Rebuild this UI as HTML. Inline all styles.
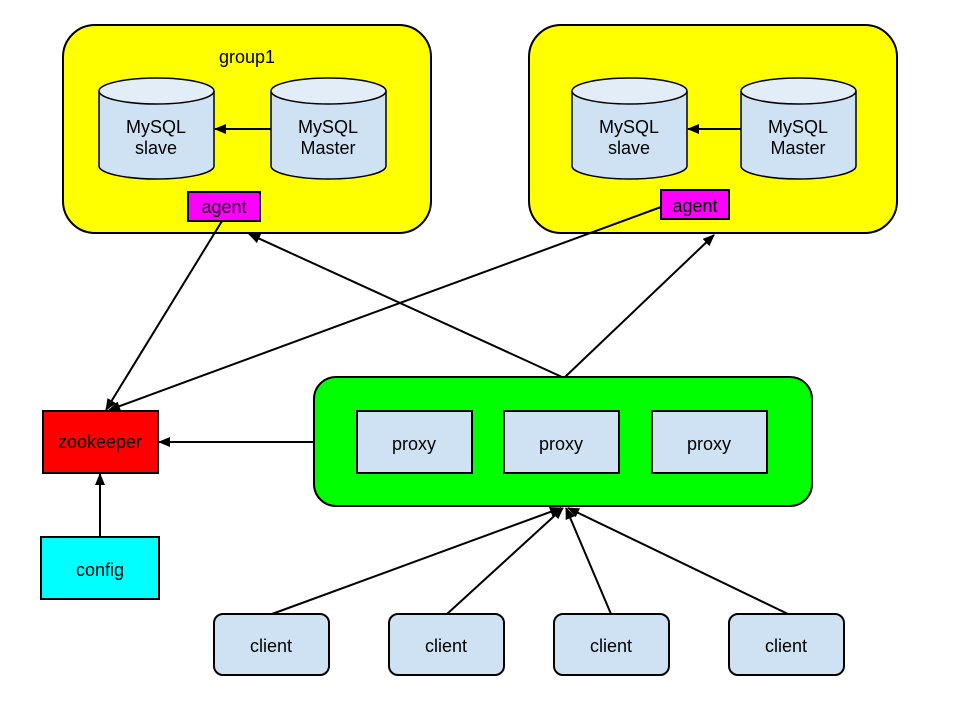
<!DOCTYPE html>
<html><head><meta charset="utf-8"><style>
html,body{margin:0;padding:0;background:#fff;}
text{font-family:"Liberation Sans",Arial,sans-serif;font-size:18px;fill:#000;}
</style></head><body>
<svg width="960" height="720" viewBox="0 0 960 720" xmlns="http://www.w3.org/2000/svg">
<defs>
<marker id="a" markerWidth="12" markerHeight="10" refX="11" refY="5" orient="auto" markerUnits="userSpaceOnUse">
<path d="M0,0 L12,5 L0,10 z" fill="#000"/></marker>
</defs>
<g stroke="#000" stroke-width="2">
<rect x="63" y="25" width="368" height="208" rx="32" fill="#ffff00"/>
<rect x="529" y="25" width="368" height="208" rx="32" fill="#ffff00"/>
<rect x="314" y="377" width="498" height="129" rx="22" fill="#00ff00"/>
<rect x="43" y="411" width="115" height="62" fill="#ff0000"/>
<rect x="41" y="537" width="118" height="62" fill="#00ffff"/>
<rect x="357" y="411" width="115" height="62" fill="#cfe2f3"/>
<rect x="504" y="411" width="115" height="62" fill="#cfe2f3"/>
<rect x="652" y="411" width="115" height="62" fill="#cfe2f3"/>
<rect x="214" y="614" width="115" height="61" rx="9" fill="#cfe2f3"/>
<rect x="389" y="614" width="115" height="61" rx="9" fill="#cfe2f3"/>
<rect x="554" y="614" width="115" height="61" rx="9" fill="#cfe2f3"/>
<rect x="729" y="614" width="115" height="61" rx="9" fill="#cfe2f3"/>
<rect x="188" y="192" width="72" height="29" fill="#ff00ff"/>
<rect x="661" y="190" width="68" height="29" fill="#ff00ff"/>
</g>
<g stroke="#000" stroke-width="1.5" fill="#cfe2f3">
<path d="M99,91 L99,166 A57.5,13 0 0 0 214,166 L214,91"/><ellipse cx="156.5" cy="91" rx="57.5" ry="13" fill="#e2edf8"/>
<path d="M271,91 L271,166 A57.5,13 0 0 0 386,166 L386,91"/><ellipse cx="328.5" cy="91" rx="57.5" ry="13" fill="#e2edf8"/>
<path d="M572,91 L572,166 A57.5,13 0 0 0 687,166 L687,91"/><ellipse cx="629.5" cy="91" rx="57.5" ry="13" fill="#e2edf8"/>
<path d="M741,91 L741,166 A57.5,13 0 0 0 856,166 L856,91"/><ellipse cx="798.5" cy="91" rx="57.5" ry="13" fill="#e2edf8"/>
</g>
<g stroke="#000" stroke-width="2" fill="none" marker-end="url(#a)">
<line x1="271" y1="129" x2="215" y2="129"/>
<line x1="741" y1="129" x2="688" y2="129"/>
<line x1="222" y1="221" x2="106" y2="410"/>
<line x1="661" y1="207" x2="109" y2="410"/>
<line x1="562" y1="377" x2="249" y2="234"/>
<line x1="565" y1="377" x2="714" y2="235"/>
<line x1="314" y1="442" x2="159" y2="442"/>
<line x1="100" y1="537" x2="100" y2="474"/>
<line x1="272" y1="614" x2="561" y2="508"/>
<line x1="447" y1="614" x2="563" y2="508"/>
<line x1="611" y1="614" x2="566" y2="508"/>
<line x1="788" y1="614" x2="568" y2="508"/>
</g>
<g text-anchor="middle">
<text x="247" y="63">group1</text>
<text x="156" y="133">MySQL</text><text x="156" y="154">slave</text>
<text x="328" y="133">MySQL</text><text x="328" y="154">Master</text>
<text x="629" y="133">MySQL</text><text x="629" y="154">slave</text>
<text x="798" y="133">MySQL</text><text x="798" y="154">Master</text>
<text x="224" y="213">agent</text>
<text x="695" y="212">agent</text>
<text x="100" y="448">zookeeper</text>
<text x="100" y="576">config</text>
<text x="414" y="450">proxy</text>
<text x="561" y="450">proxy</text>
<text x="709" y="450">proxy</text>
<text x="271" y="652">client</text>
<text x="446" y="652">client</text>
<text x="611" y="652">client</text>
<text x="786" y="652">client</text>
</g>
</svg>
</body></html>
